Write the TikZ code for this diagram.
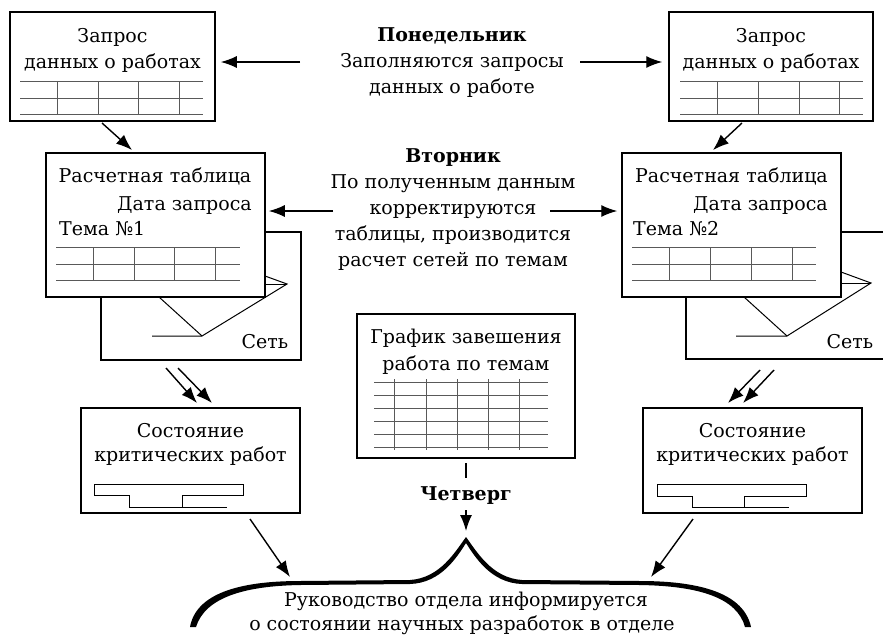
\documentclass[tikz,border=0pt]{standalone}
\usepackage{fontspec}
\setmainfont{DejaVu Serif}
\usetikzlibrary{arrows.meta,calc}
\begin{document}
\begin{tikzpicture}[x=1pt,y=-1pt,
  box/.style={draw, line width=1.5pt, fill=white, inner sep=0pt},
  sheet/.style={draw, line width=1.5pt, fill=white},
  gridline/.style={draw=black!65, line width=1pt},
  netline/.style={draw, line width=1pt},
  arr/.style={line width=1.4pt, -{Latex[length=16pt,width=12pt]}},
  tx/.style={anchor=base, inner sep=0pt, font=\fontsize{19}{26}\selectfont},
  txb/.style={tx, font=\fontsize{19}{26}\selectfont\bfseries}]
\useasboundingbox (0,0) rectangle (883,635);

% ---- background network sheets
\draw[sheet] (101,232) rectangle (301,360);
\draw[line width=1.5pt, fill=white] (884,232) -- (686,232) -- (686,359) -- (884,359);
\draw[netline] (159,297) -- (202,336);
\draw[netline] (152,336) -- (202,336) -- (287,284) -- (265,276);
\draw[netline] (287,284) -- (265,284);
\draw[netline] (744,297) -- (787,336);
\draw[netline] (736,336) -- (787,336) -- (871,283) -- (841,272);
\draw[netline] (871,283) -- (841,283);
\node[tx] (set1) at (265,348) {Сеть};
\node[tx] (set2) at (850,348) {Сеть};

% ---- boxes
\node[box, minimum width=205pt, minimum height=109pt] (q1) at (112.5,66.5) {};
\node[box, minimum width=204pt, minimum height=109pt] (q2) at (771,66.5) {};
\node[box, minimum width=219pt, minimum height=144pt] (r1) at (155.5,225) {};
\node[box, minimum width=219pt, minimum height=144pt] (r2) at (731.5,225) {};
\node[box, minimum width=219pt, minimum height=105pt] (s1) at (190.5,460.5) {};
\node[box, minimum width=219pt, minimum height=105pt] (s2) at (752.5,460.5) {};
\node[box, minimum width=218pt, minimum height=144pt] (g) at (466,386) {};

% ---- tables
\foreach \y in {81,98,114} {
  \draw[gridline] (20,\y) -- (203,\y);
  \draw[gridline] (680,\y) -- (863,\y);
}
\foreach \x in {57,98,138,179} \draw[gridline] (\x,81) -- (\x,114);
\foreach \x in {717,758,799,839} \draw[gridline] (\x,81) -- (\x,114);
\foreach \y in {247,264,280} {
  \draw[gridline] (56,\y) -- (240,\y);
  \draw[gridline] (632,\y) -- (816,\y);
}
\foreach \x in {93,134,174,215} \draw[gridline] (\x,247) -- (\x,280);
\foreach \x in {669,710,751,792} \draw[gridline] (\x,247) -- (\x,280);
\foreach \y in {382,395,408,421,434,447} \draw[gridline] (374,\y) -- (548,\y);
\foreach \x in {394,426,457,488,519} \draw[gridline] (\x,379) -- (\x,450);

% ---- step charts
\draw[netline] (94,484) -- (243,484) -- (243,495) -- (182,495) -- (182,507);
\draw[netline] (94,484) -- (94,495) -- (129,495) -- (129,507) -- (227,507);
\draw[netline] (657,484) -- (806,484) -- (806,496) -- (744,496) -- (744,507);
\draw[netline] (657,484) -- (657,496) -- (692,496) -- (692,507) -- (789,507);

% ---- texts in boxes
\node[tx] (q1a) at (112.5,42) {Запрос};
\node[tx] (q1b) at (112.5,68) {данных о работах};
\node[tx] (q2a) at (771,42) {Запрос};
\node[tx] (q2b) at (771,68) {данных о работах};
\node[tx] (r1a) at (155,182) {Расчетная таблица};
\node[tx, anchor=base east] (r1b) at (252,210) {Дата запроса};
\node[tx, anchor=base west] (r1c) at (59,235) {Тема №1};
\node[tx] (r2a) at (731.5,182) {Расчетная таблица};
\node[tx, anchor=base east] (r2b) at (828,210) {Дата запроса};
\node[tx, anchor=base west] (r2c) at (633,235) {Тема №2};
\node[tx] (ga) at (466,343) {График завешения};
\node[tx] (gb) at (466,370) {работа по темам};
\node[tx] (s1a) at (190.5,437) {Состояние};
\node[tx] (s1b) at (190.5,461) {критических работ};
\node[tx] (s2a) at (752.5,437) {Состояние};
\node[tx] (s2b) at (752.5,461) {критических работ};

% ---- central texts
\node[txb] (mon) at (452,41) {Понедельник};
\node[tx] (mon1) at (452,67) {Заполняются запросы};
\node[tx] (mon2) at (452,93) {данных о работе};
\node[txb] (tue) at (453,162) {Вторник};
\node[tx] (tue1) at (453,188) {По полученным данным};
\node[tx] (tue2) at (453,214) {корректируются};
\node[tx] (tue3) at (453,240) {таблицы, производится};
\node[tx] (tue4) at (453,266) {расчет сетей по темам};
\node[txb] (thu) at (466,500) {Четверг};
\node[tx] (bot1) at (466,606) {Руководство отдела информируется};
\node[tx] (bot2) at (462,630) {о состоянии научных разработок в отделе};

% ---- connectors
\coordinate (a1) at (300,62);
\coordinate (a2) at (580,62);
\coordinate (a3) at (333,211);
\coordinate (a4) at (550,211);
\draw[arr, shorten >=5pt] (a1) -- (a1 -| q1.east);
\draw[arr, shorten >=6pt] (a2) -- (a2 -| q2.west);
\draw[arr, shorten >=3pt] (a3) -- (a3 -| r1.east);
\draw[arr, shorten >=4pt] (a4) -- (a4 -| r2.west);

\coordinate (d1s) at (102,123); \coordinate (d1e) at (132,150);
\coordinate (d2s) at (742,123); \coordinate (d2e) at (713,150);
\draw[arr] (d1s) -- (d1e);
\draw[arr] (d2s) -- (d2e);

\coordinate (e1s) at (166,368); \coordinate (e1e) at (197,403);
\coordinate (e2s) at (178,368); \coordinate (e2e) at (212,403);
\coordinate (e3s) at (760,370); \coordinate (e3e) at (728,403);
\coordinate (e4s) at (774,370); \coordinate (e4e) at (743,403);
\draw[arr] (e1s) -- (e1e);
\draw[arr] (e2s) -- (e2e);
\draw[arr] (e3s) -- (e3e);
\draw[arr] (e4s) -- (e4e);

\coordinate (tip) at (466,540);
\coordinate (thuend) at (466,531);
\coordinate (f1s) at (250,519); \coordinate (f1e) at (290,577);
\coordinate (f2s) at (693,519); \coordinate (f2e) at (651,577);
\draw[arr] (f1s) -- (f1e);
\draw[arr] (f2s) -- (f2e);
\draw[line width=1.4pt] (g.south |- 0,463) -- (g.south |- 0,478);
\draw[arr] (thu.south |- 0,510) -- (thuend);

% ---- brace
\fill (190,627) .. controls (196,594) and (238,581) .. (300,581) -- (410,580)
  .. controls (440,578) and (455,552) .. (466,537)
  .. controls (477,552) and (492,578) .. (522,580) -- (640,581)
  .. controls (702,581) and (744,594) .. (751,627)
  -- (745,627) .. controls (737,598) and (700,586) .. (640,585) -- (522,584)
  .. controls (491,583) and (475,557) .. (466,543)
  .. controls (457,557) and (441,583) .. (410,584) -- (300,585)
  .. controls (243,586) and (205,598) .. (196,627) -- cycle;
\end{tikzpicture}
\end{document}
